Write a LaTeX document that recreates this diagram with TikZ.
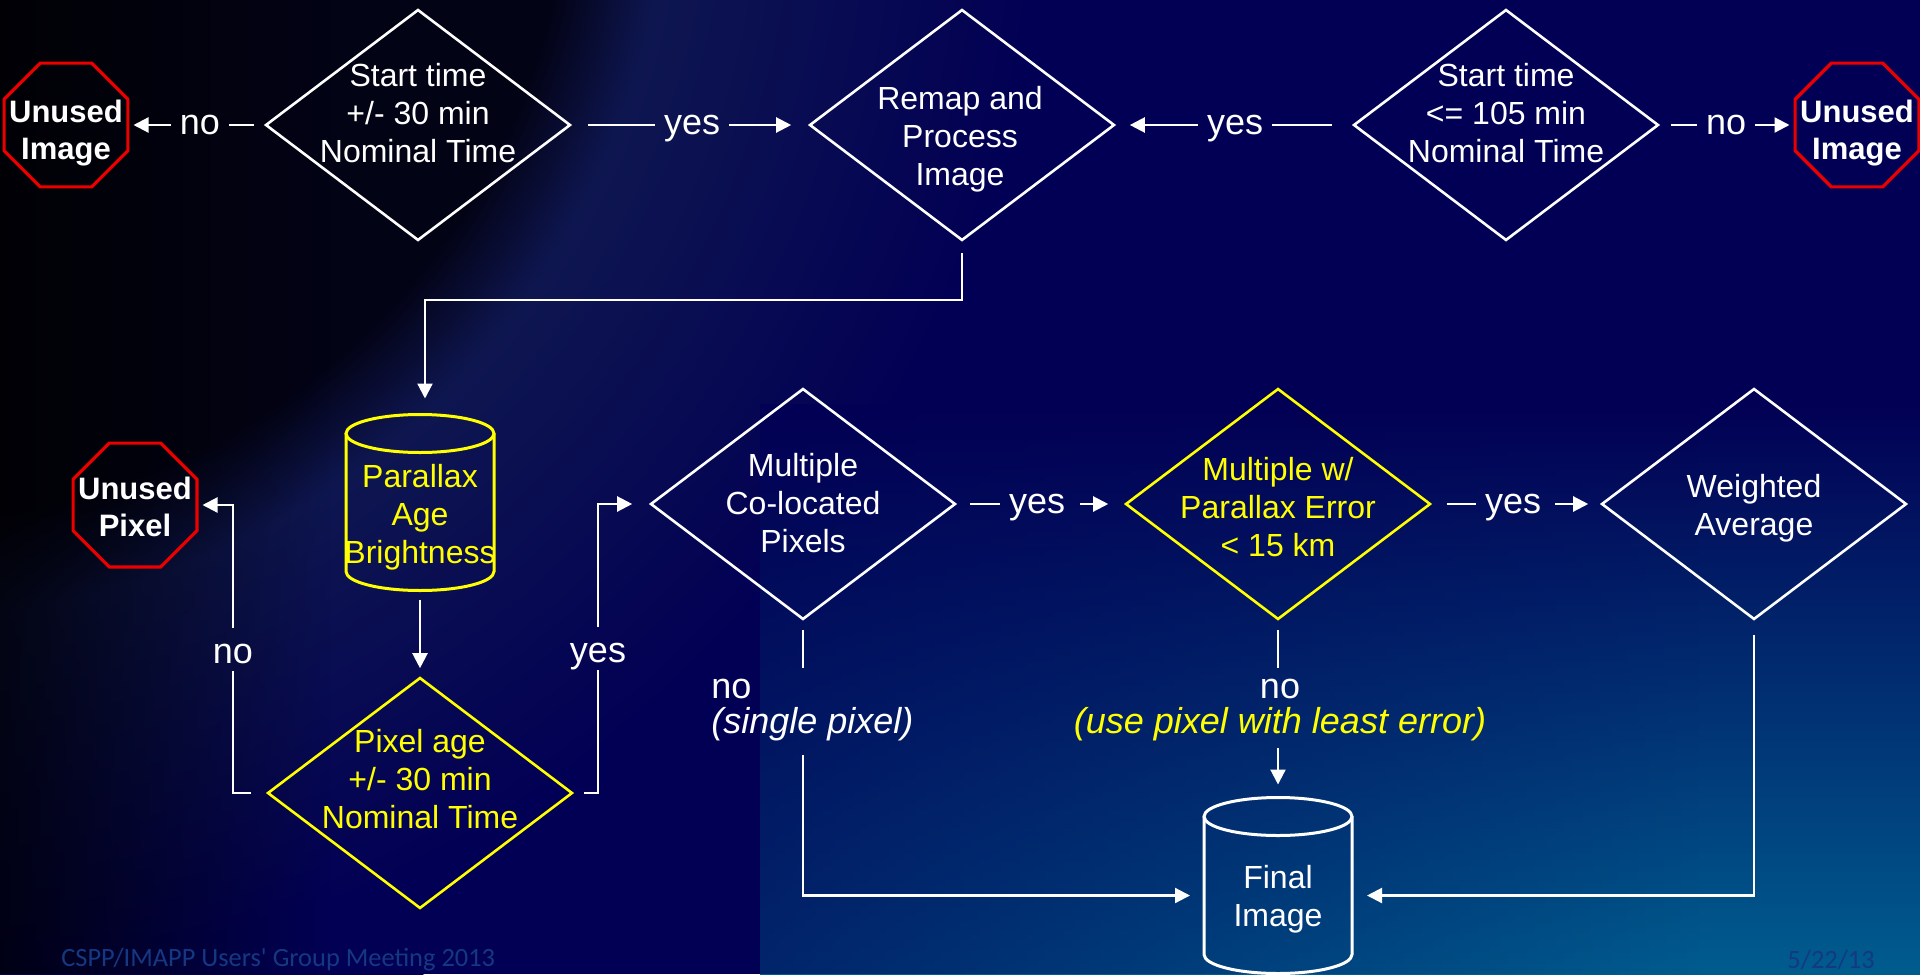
\documentclass[tikz,border=0pt]{standalone}
\usepackage{fontspec}
\setmainfont{Liberation Sans}
\newfontfamily\footfont{Carlito}
\usetikzlibrary{shapes.geometric, arrows.meta, fadings, calc}

\definecolor{bgnavy}{RGB}{2,0,84}
\definecolor{limbdark}{RGB}{3,3,22}
\definecolor{limbrim}{RGB}{14,22,80}
\definecolor{glowbr}{RGB}{0,92,142}
\definecolor{ylw}{RGB}{255,255,0}
\definecolor{stopred}{RGB}{235,0,0}
\definecolor{footblue}{RGB}{20,56,130}

\tikzfading[name=faderight, left color=transparent!0, right color=transparent!100]
\pgfdeclareradialshading{limb}{\pgfpoint{0bp}{0bp}}{%
  color(0bp)=(limbdark); color(13.5bp)=(limbdark); color(15.5bp)=(limbrim);
  color(23bp)=(bgnavy); color(25bp)=(bgnavy); color(50bp)=(bgnavy)}

% outline of a data store drawn round a box node: #1 node, #2 colour
\newcommand\storeoutline[2]{%
  \draw[#2, line width=1.5pt] ([yshift=-9.5pt]#1.north west) -- ([yshift=9.5pt]#1.south west)
    arc[start angle=180, end angle=360, x radius=37pt, y radius=9.5pt]
    -- ([yshift=-9.5pt]#1.north east);
  \draw[#2, line width=1.5pt] ([yshift=-9.5pt]#1.north) ellipse [x radius=37pt, y radius=9.5pt];
}

\begin{document}
\begin{tikzpicture}[x=0.5pt, y=-0.5pt,
  dia/.style={diamond, draw=white, line width=1.3pt, minimum width=152.5pt,
    minimum height=115.5pt, inner sep=0pt},
  ydia/.style={dia, draw=ylw},
  stopsign/.style={regular polygon, regular polygon sides=8, draw=stopred,
    line width=1.6pt, minimum size=67pt, inner sep=0pt},
  storebox/.style={rectangle, minimum width=74pt, minimum height=88pt, inner sep=0pt, outer sep=0pt},
  txt/.style={text=white, font=\fontsize{16pt}{19pt}\selectfont, align=center, inner sep=0pt},
  ytxt/.style={txt, text=ylw},
  stoptxt/.style={text=white, font=\fontsize{15.5pt}{18.5pt}\selectfont\bfseries,
    align=center, inner sep=0pt},
  lab/.style={text=white, font=\fontsize{18pt}{17.5pt}\selectfont, inner xsep=4.5pt,
    inner ysep=0pt, text height=9.4pt, text depth=0pt},
  labblock/.style={text=white, font=\fontsize{18pt}{17.5pt}\selectfont, inner sep=0pt},
  wire/.style={draw=white, line width=1.1pt},
  arr/.style={wire, -{Triangle[length=7.5pt, width=7.5pt]}},
  foot/.style={text=footblue, font=\footfont\fontsize{13.2pt}{15pt}\selectfont, inner sep=0pt}
]
\useasboundingbox (0,0) rectangle (1920,974);

% ---- background ----
\begin{scope}
  \clip (0,0) rectangle (1920,974);
  \fill[bgnavy] (0,0) rectangle (1920,974);
  \shade[shading=limb] (-100,-150) circle (620pt);
  \shade[top color=bgnavy, bottom color=glowbr] (760,404) rectangle (1920,974);
  \fill[bgnavy, path fading=faderight, fill opacity=0.6] (760,404) rectangle (1700,974);
  \fill[black, path fading=faderight, fill opacity=0.75] (0,0) rectangle (330,974);
\end{scope}

% ---- top row: image selection ----
\node[stopsign] (uiL) at (66,125) {};
\node[stoptxt] (uiL-t) at (66,132.6) {Unused\\Image};
\node[dia] (d1) at (418,125) {};
\node[txt] (d1-t) at (418,113.3) {Start time\\+/- 30 min\\Nominal Time};
\node[dia] (remap) at (962,125) {};
\node[txt] (remap-t) at (960,138.8) {Remap and\\Process\\Image};
\node[dia] (d3) at (1506,125) {};
\node[txt] (d3-t) at (1506,113.3) {Start time\\<= 105 min\\Nominal Time};
\node[stopsign] (uiR) at (1857,125) {};
\node[stoptxt] (uiR-t) at (1857,132.6) {Unused\\Image};

% ---- pixel tests ----
\node[storebox] (parallax) at (420,502.5) {};
\storeoutline{parallax}{ylw}
\node[ytxt] (parallax-t) at (420,517.3) {Parallax\\Age\\Brightness};
\node[stopsign] (upix) at (135,505) {};
\node[stoptxt] (upix-t) at (135,506.9) {Unused\\Pixel};
\node[ydia] (pixage) at (420,793) {};
\node[ytxt] (pixage-t) at (420,779) {Pixel age\\+/- 30 min\\Nominal Time};
\node[dia] (multi) at (803,504) {};
\node[txt] (multi-t) at (803,503.5) {Multiple\\Co-located\\Pixels};
\node[ydia] (mperr) at (1278,504) {};
\node[ytxt] (mperr-t) at (1278,506.8) {Multiple w/\\Parallax Error\\< 15 km};
\node[dia] (wavg) at (1754,504) {};
\node[txt] (wavg-t) at (1754,507.8) {Weighted\\Average};
\node[storebox] (final) at (1278,885.5) {};
\storeoutline{final}{white}
\node[txt] (final-t) at (1278,899.3) {Final\\Image};

% ---- top row connectors ----
\node[lab] (no1) at (200,125) {no};
\draw[wire, shorten <=5pt] (d1) -- (no1);
\draw[arr, shorten >=2pt] (no1) -- (uiL);
\node[lab] (yes1) at (692,125) {yes};
\draw[wire, shorten <=8pt] (d1) -- (yes1);
\draw[arr, shorten >=8.5pt] (yes1) -- (remap);
\node[lab] (yes2) at (1235,125) {yes};
\draw[wire, shorten <=10pt] (d3) -- (yes2);
\draw[arr, shorten >=7pt] (yes2) -- (remap);
\node[lab] (no2) at (1726,125) {no};
\draw[wire, shorten <=5.5pt] (d3) -- (no2);
\draw[arr, shorten >=2pt] (no2) -- (uiR);

% remapped image feeds the pixel store
\coordinate (bend) at (425,300);
\draw[arr, shorten <=5.5pt, shorten >=8pt] (remap.south) |- (bend) -- (bend |- parallax.north);
\draw[arr, shorten <=4.5pt, shorten >=4pt] (parallax) -- (pixage);

% pixel age test
\node[lab] (noP) at (233,653.7) {no};
\draw[wire, shorten <=7.5pt, shorten >=3.5pt] (pixage.west) -| (noP.south);
\draw[arr, shorten <=8pt, shorten >=2pt] (noP.north) |- (upix.east);
\node[lab] (yesP) at (598,653) {yes};
\draw[wire, shorten <=5pt, shorten >=3.5pt] (pixage.east) -| (yesP.south);
\draw[arr, shorten <=8pt, shorten >=8.5pt] (yesP.north) |- (multi.west);

% co-location tests
\node[lab] (yes3) at (1037,504) {yes};
\draw[wire, shorten <=6.5pt] (multi) -- (yes3);
\draw[arr, shorten <=3pt, shorten >=8pt] (yes3) -- (mperr);
\node[lab] (yes4) at (1513,504) {yes};
\draw[wire, shorten <=7.5pt] (mperr) -- (yes4);
\draw[arr, shorten <=2.5pt, shorten >=6pt] (yes4) -- (wavg);

% into the final image
\node[labblock, align=left, anchor=west] (nosingle) at (711,710) {no\\{\itshape (single pixel)}};
\coordinate (g1a) at (803,668);
\coordinate (g1b) at (803,755);
\draw[wire, shorten <=4.5pt] (multi.south) -- (g1a);
\draw[arr, shorten >=7pt] (g1b) |- ([yshift=-5pt]final.west);

\node[labblock, align=center] (noleast) at (1280,710) {no\\{\color{ylw}\itshape (use pixel with least error)}};
\coordinate (g2a) at (1278,668);
\coordinate (g2b) at (1278,748);
\draw[wire, shorten <=4.5pt] (mperr.south) -- (g2a);
\draw[arr, shorten >=6.5pt] (g2b) -- (final.north);

\draw[arr, shorten <=7pt, shorten >=7.5pt] (wavg.south) |- ([yshift=-5pt]final.east);

% ---- footer ----
\node[foot, anchor=base west] (meeting) at (61,966) {CSPP/IMAPP Users\textquotesingle{} Group Meeting 2013};
\node[foot, anchor=base west] (date) at (1787,968) {5/22/13};
\end{tikzpicture}
\end{document}
